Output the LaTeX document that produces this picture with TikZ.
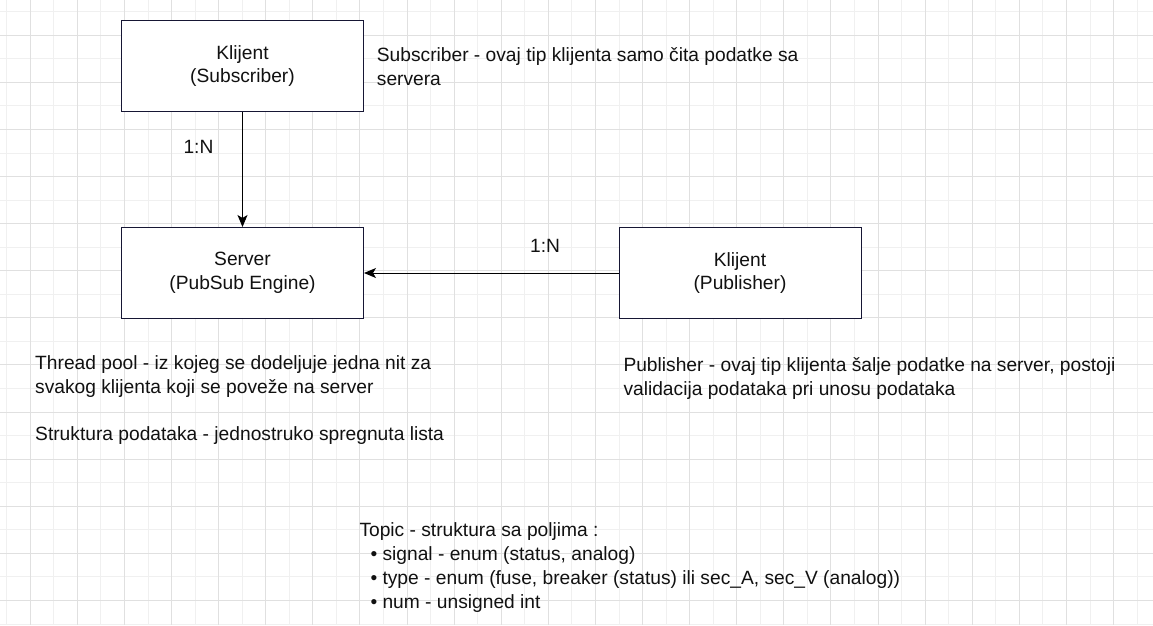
\documentclass[tikz,border=0pt]{standalone}
\usepackage{fontspec}
\setmainfont{Liberation Sans}
\usetikzlibrary{arrows.meta}
\definecolor{boxline}{RGB}{22,22,52}
\definecolor{textcol}{RGB}{17,17,17}
\definecolor{gridlight}{RGB}{240,240,240}
\definecolor{griddark}{RGB}{224,224,224}
\begin{document}
\begin{tikzpicture}[x=1pt,y=-1pt]
			\tikzset{entity/.style = {draw=boxline, line width=1pt, fill=white, minimum width=242pt, minimum height=91pt, inner sep=0pt, align=center, text=textcol, font=\fontsize{19.2}{23.8}\selectfont}}
			\tikzset{note/.style = {anchor=base west, inner sep=0pt, align=left, text=textcol, font=\fontsize{19.2}{23.8}\selectfont}}
			\tikzset{link/.style = {-{Stealth[length=12pt,width=10pt,inset=3pt]}, line width=1pt}}
			\useasboundingbox[fill=white] (0,0) rectangle (1153,625);
			% Draw grid
			\foreach \i in {0,2,...,48} \draw[gridlight, line width=1pt] ({6.7+23.55*\i},0) -- ({6.7+23.55*\i},625);
			\foreach \j in {0,2,...,26} \draw[gridlight, line width=1pt] (0,{11.7+23.55*\j}) -- (1153,{11.7+23.55*\j});
			\foreach \i in {1,3,...,47} \draw[griddark, line width=1pt] ({6.7+23.55*\i},0) -- ({6.7+23.55*\i},625);
			\foreach \j in {1,3,...,25} \draw[griddark, line width=1pt] (0,{11.7+23.55*\j}) -- (1153,{11.7+23.55*\j});
			% Draw entities
			\node[entity] (sub) at (242.5,66) {Klijent\\(Subscriber)};
			\node[entity] (srv) at (242.5,273) {Server\\(PubSub Engine)};
			\node[entity] (pub) at (740,273) {Klijent\\(Publisher)};
			\draw[link] (sub) to (srv);
			\draw[link] (pub) to (srv);
			\node[note] (subcard) at (183.3,153.3) {1:N};
			\node[note] (pubcard) at (530,252.3) {1:N};
			% Draw notes (anchored at the last line's baseline)
			\node[note] (subnote) at (376.7,85) {Subscriber - ovaj tip klijenta samo čita podatke sa\\servera};
			\node[note] (srvnote) at (35,440.7) {Thread pool - iz kojeg se dodeljuje jedna nit za\\svakog klijenta koji se poveže na server\\[23.8pt]Struktura podataka - jednostruko spregnuta lista};
			\node[note] (pubnote) at (623.3,395) {Publisher - ovaj tip klijenta šalje podatke na server, postoji\\validacija podataka pri unosu podataka};
			\node[note] (topic) at (359.3,608.3) {Topic - struktura sa poljima :\\\hspace*{11pt}• signal - enum (status, analog)\\\hspace*{11pt}• type - enum (fuse, breaker (status) ili sec\_A, sec\_V (analog))\\\hspace*{11pt}• num - unsigned int};
		\end{tikzpicture}
\end{document}
